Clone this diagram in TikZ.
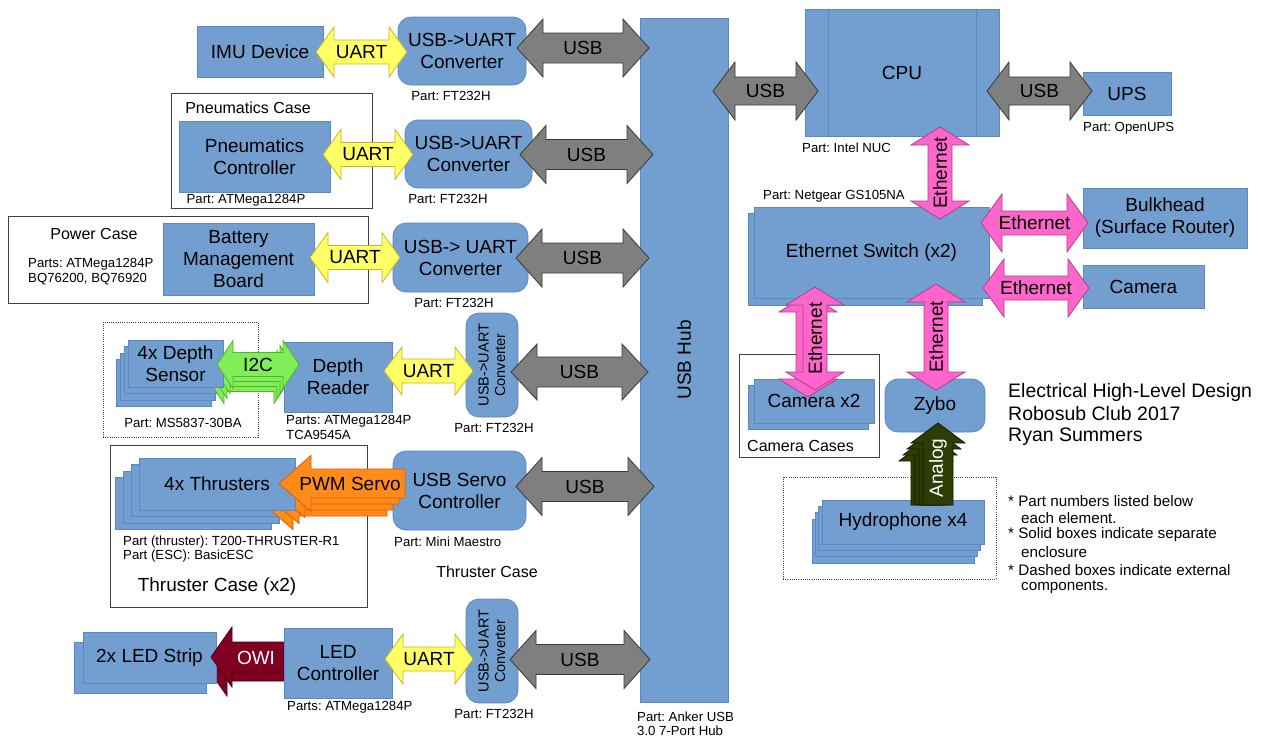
\documentclass[tikz,border=0pt]{standalone}
\usepackage{fontspec}
\setmainfont{Liberation Sans}
\frenchspacing
\definecolor{blkfill}{HTML}{729FCF}
\definecolor{blkdraw}{HTML}{5A88C2}
\definecolor{casedraw}{HTML}{404040}
\definecolor{yfill}{HTML}{FFFF66}
\definecolor{ydraw}{HTML}{C8B42A}
\definecolor{gfill}{HTML}{7F7F7F}
\definecolor{gdraw}{HTML}{3A3A3A}
\definecolor{grfill}{HTML}{80EE58}
\definecolor{grdraw}{HTML}{55B030}
\definecolor{pfill}{HTML}{FF66CC}
\definecolor{pdraw}{HTML}{B03E8A}
\definecolor{ofill}{HTML}{FF8C1A}
\definecolor{odraw}{HTML}{E05A00}
\definecolor{rfill}{HTML}{7F0021}
\definecolor{rdraw}{HTML}{4A0012}
\definecolor{olfill}{HTML}{2E3C06}
\definecolor{oldraw}{HTML}{141C00}
\tikzset{
 blk/.style={draw=blkdraw, fill=blkfill, line width=0.8pt, inner sep=0pt, outer sep=0pt, align=center, font=\fontsize{19}{22}\selectfont},
 rblk/.style={blk, rounded corners=13pt},
 casebox/.style={draw=casedraw, fill=none, line width=0.9pt},
 dotbox/.style={draw=casedraw, fill=none, line width=0.7pt, dash pattern=on 1pt off 1.2pt},
 yarr/.style={draw=ydraw, fill=yfill, line width=0.8pt},
 garr/.style={draw=gdraw, fill=gfill, line width=0.8pt},
 grarr/.style={draw=grdraw, fill=grfill, line width=0.8pt},
 parr/.style={draw=pdraw, fill=pfill, line width=0.8pt},
 oarr/.style={draw=odraw, fill=ofill, line width=0.8pt},
 rarr/.style={draw=rdraw, fill=rfill, line width=0.8pt},
 olarr/.style={draw=oldraw, fill=olfill, line width=0.8pt},
 lbl/.style={font=\fontsize{19}{22}\selectfont, inner sep=0pt},
 vlbl/.style={font=\fontsize{14.5}{16.5}\selectfont, inner sep=0pt, align=center, rotate=90},
 part/.style={font=\fontsize{13.2}{14.5}\selectfont, inner sep=0pt, align=left},
 casett/.style={font=\fontsize{16}{19}\selectfont, inner sep=0pt},
 note/.style={font=\fontsize{15.2}{17}\selectfont, inner sep=0pt, anchor=west},
 title/.style={font=\fontsize{19.5}{22}\selectfont, inner sep=0pt, anchor=west},
}
% box: [opts]{name}{x1}{y1}{x2}{y2}{text}
\newcommand\Blk[7][]{\node[blk,#1,minimum width={(#5-#3)*1pt},minimum height={(#6-#4)*1pt}] (#2) at ({(#3+#5)/2},{(#4+#6)/2}) {#7};}
% horizontal double arrow: style, xL, xR, yc, half head, half shaft, head length
\newcommand\HDA[7]{\draw[#1] (#2,#4) -- ({#2+#7},{#4-#5}) -- ({#2+#7},{#4-#6}) -- ({#3-#7},{#4-#6}) -- ({#3-#7},{#4-#5}) -- (#3,#4) -- ({#3-#7},{#4+#5}) -- ({#3-#7},{#4+#6}) -- ({#2+#7},{#4+#6}) -- ({#2+#7},{#4+#5}) -- cycle;}
% vertical double arrow: style, xc, yTop, yBot, half head, half shaft, head length
\newcommand\VDA[7]{\draw[#1] (#2,#3) -- ({#2+#5},{#3+#7}) -- ({#2+#6},{#3+#7}) -- ({#2+#6},{#4-#7}) -- ({#2+#5},{#4-#7}) -- (#2,#4) -- ({#2-#5},{#4-#7}) -- ({#2-#6},{#4-#7}) -- ({#2-#6},{#3+#7}) -- ({#2-#5},{#3+#7}) -- cycle;}
% left arrow: style, xtip, xend, yc, half head, half shaft, head length
\newcommand\LAR[7]{\draw[#1] (#2,#4) -- ({#2+#7},{#4-#5}) -- ({#2+#7},{#4-#6}) -- (#3,{#4-#6}) -- (#3,{#4+#6}) -- ({#2+#7},{#4+#6}) -- ({#2+#7},{#4+#5}) -- cycle;}
% up arrow: style, xc, ytip, yend, half head, half shaft, head length
\newcommand\UAR[7]{\draw[#1] (#2,#3) -- ({#2+#5},{#3+#7}) -- ({#2+#6},{#3+#7}) -- ({#2+#6},#4) -- ({#2-#6},#4) -- ({#2-#6},{#3+#7}) -- ({#2-#5},{#3+#7}) -- cycle;}
\begin{document}
\begin{tikzpicture}[x=1pt,y=-1pt]
\useasboundingbox[fill=white] (0,0) rectangle (1262,742);
% ---------- cases ----------
\Blk[casebox]{pcase}{171}{93}{372}{208}{}
\Blk[casebox]{pwcase}{8}{216}{368}{303}{}
\Blk[dotbox]{dcase}{103}{322}{258}{437}{}
\Blk[casebox]{tcase}{110}{445}{367}{607}{}
\Blk[casebox]{ccase}{739}{354}{879}{457}{}
\Blk[dotbox]{hcase}{783}{477}{996}{579}{}
% ---------- left column boxes ----------
\Blk{imu}{197}{26}{323}{77}{IMU Device}
\Blk[rblk]{conv1}{398}{17}{526}{85}{USB->UART\\Converter}
\Blk{pneu}{179}{121}{330}{192}{Pneumatics\\Controller}
\Blk[rblk]{conv2}{405}{120}{532}{188}{USB->UART\\Converter}
\Blk{bms}{163}{223}{314}{295}{Battery\\Management\\Board}
\Blk[rblk]{conv3}{393}{223}{528}{292}{USB-> UART\\Converter}
% depth sensors
\Blk{ds3}{116}{359.5}{211}{406.5}{}
\Blk{ds2}{120}{353}{215}{400}{}
\Blk{ds1}{124}{346.5}{219}{393.5}{}
\HDA{grarr}{208}{290}{379.5}{24}{12}{16}
\HDA{grarr}{211}{293}{374.5}{24}{12}{16}
\HDA{grarr}{214}{296}{369.5}{24}{12}{16}
\Blk{ds0}{128}{340}{223}{387}{4x Depth\\Sensor}
\Blk{reader}{284}{342}{392}{412}{Depth\\Reader}
\HDA{grarr}{217}{299}{364.5}{24}{12}{16}
\node[lbl] (li2c) at (258,364.5) {I2C};
\Blk[rblk]{conv4}{466}{313}{518}{417}{}
\node[vlbl] (conv4t) at (conv4) {USB->UART\\Converter};
% thrusters
\Blk[rblk]{servo}{393}{451}{526}{530}{USB Servo\\Controller}
\Blk{th3}{115.6}{477.5}{271.6}{529.5}{}
\Blk{th2}{123.4}{471}{279.4}{523}{}
\Blk{th1}{131.2}{464.5}{287.2}{516.5}{}
\LAR{oarr}{261}{387}{501.5}{28}{14.5}{32}
\LAR{oarr}{267}{393}{495.5}{28}{14.5}{32}
\LAR{oarr}{273}{399}{489.5}{28}{14.5}{32}
\Blk{th0}{139}{458}{295}{510}{4x Thrusters}
\LAR{oarr}{279}{405}{483.5}{28}{14.5}{32}
\node[lbl] (lpwm) at (350,483.5) {PWM Servo};
% LED
\Blk{led1}{74}{642}{206}{693}{}
\LAR{rarr}{206}{285}{666}{30}{15}{21}
\Blk{led0}{83}{632}{216}{683}{2x LED Strip}
\LAR{rarr}{211}{285}{657}{30}{15}{21}
\node[lbl,text=white] (lowi) at (256,658) {OWI};
\Blk{ledc}{284}{628}{392}{698}{LED\\Controller}
\Blk[rblk]{conv6}{466}{599}{518}{703}{}
\node[vlbl] (conv6t) at (conv6) {USB->UART\\Converter};
% hub
\Blk{hub}{640}{18}{728}{702}{}
\node[lbl,rotate=90] (hubt) at (684,360) {USB Hub};
% ---------- right side ----------
\Blk{cpu}{805}{9}{999}{136}{CPU}
\draw[draw=blkdraw, line width=0.8pt] (828,9) -- (828,136) (976,9) -- (976,136);
\Blk{ups}{1083}{72}{1171}{115}{UPS}
\Blk{sw1}{748}{213}{982}{305}{}
\Blk{sw0}{754}{207}{989}{298}{Ethernet Switch (x2)}
\Blk{bulk}{1083}{188}{1247}{248}{Bulkhead\\(Surface Router)}
\Blk{cam}{1083}{265}{1204}{308}{Camera}
\Blk{cx1}{748}{385}{868}{429}{}
\Blk{cx0}{754}{379}{874}{423}{Camera x2}
\Blk[rblk]{zybo}{885}{379}{985}{432}{Zybo}
\Blk{hy3}{812.1}{518.9}{974.1}{562.9}{}
\Blk{hy2}{815.4}{512.6}{977.4}{556.6}{}
\Blk{hy1}{818.7}{506.3}{980.7}{550.3}{}
\Blk{hy0}{822}{500}{984}{544}{Hydrophone x4}
% ---------- UART arrows ----------
\HDA{yarr}{316}{407}{52}{25}{12}{18}
\node[lbl] (lu1) at (361.5,52) {UART};
\HDA{yarr}{323}{413}{154.5}{25}{12}{18}
\node[lbl] (lu2) at (368,154.5) {UART};
\HDA{yarr}{310}{400}{257.5}{25}{12}{18}
\node[lbl] (lu3) at (355,257.5) {UART};
\HDA{yarr}{384}{473}{371}{24}{12}{18}
\node[lbl] (lu4) at (428.5,371) {UART};
\HDA{yarr}{385}{473}{659}{25}{12}{18}
\node[lbl] (lu6) at (429,659) {UART};
% ---------- USB arrows ----------
\HDA{garr}{517}{649}{48}{29}{15}{26}
\node[lbl] (lg1) at (583,48) {USB};
\HDA{garr}{520}{653}{154.5}{29}{15}{26}
\node[lbl] (lg2) at (586.5,154.5) {USB};
\HDA{garr}{516}{649}{258}{29}{15}{26}
\node[lbl] (lg3) at (582.5,258) {USB};
\HDA{garr}{511}{648}{372}{28}{15}{26}
\node[lbl] (lg4) at (579.5,372) {USB};
\HDA{garr}{516}{654}{486.5}{29}{15}{26}
\node[lbl] (lg5) at (585,486.5) {USB};
\HDA{garr}{510}{650}{659.5}{29}{15}{26}
\node[lbl] (lg6) at (580,659.5) {USB};
\HDA{garr}{713}{818}{91}{29}{14}{22}
\node[lbl] (lg7) at (765.5,91) {USB};
\HDA{garr}{987}{1092}{91}{29}{14}{22}
\node[lbl] (lg8) at (1039.5,91) {USB};
% ---------- Ethernet arrows ----------
\VDA{parr}{940}{127}{219}{29}{12}{18}
\node[lbl,rotate=90] (le1) at (940,173) {Ethernet};
\HDA{parr}{981}{1088}{223}{29}{12}{21}
\node[lbl] (le2) at (1034.5,223) {Ethernet};
\HDA{parr}{983}{1089}{288}{29}{12}{21}
\node[lbl] (le3) at (1036,288) {Ethernet};
\VDA{parr}{808}{294}{397}{29}{12}{18}
\VDA{parr}{815}{287}{390}{29}{12}{18}
\node[lbl,rotate=90] (le4) at (815,338.5) {Ethernet};
\VDA{parr}{936}{284}{390}{29}{12}{18}
\node[lbl,rotate=90] (le5) at (936,337) {Ethernet};
% ---------- Analog ----------
\UAR{olarr}{926}{441}{505}{27}{15}{20}
\UAR{olarr}{930}{435}{505}{27}{15}{20}
\UAR{olarr}{934}{429}{505}{27}{15}{20}
\UAR{olarr}{938}{423}{505}{27}{15}{20}
\node[lbl,rotate=90,text=white] (lan) at (938,468) {Analog};
% ---------- case titles and parts ----------
\node[casett] (t1) at (248,108) {Pneumatics Case};
\node[casett] (t2) at (94,234) {Power Case};
\node[lbl] (t3) at (217,587) {Thruster Case (x2)};
\node[casett] (t4) at (487,572) {Thruster Case};
\node[casett,anchor=west] (t5) at (747,446) {Camera Cases};
\node[part] (p1) at (451,96) {Part: FT232H};
\node[part] (p2) at (448,199) {Part: FT232H};
\node[part] (p3) at (454,303) {Part: FT232H};
\node[part] (p4) at (494,428) {Part: FT232H};
\node[part] (p5) at (494,714) {Part: FT232H};
\node[part] (p6) at (246,200) {Part: ATMega1284P};
\node[part,anchor=west] (p7) at (28,271.5) {Parts: ATMega1284P\\BQ76200, BQ76920};
\node[part] (p8) at (183,423) {Part: MS5837-30BA};
\node[part,anchor=west] (p9) at (286,427.5) {Parts: ATMega1284P\\TCA9545A};
\node[part,anchor=west] (p10) at (123,549) {Part (thruster): T200-THRUSTER-R1\\Part (ESC): BasicESC};
\node[part,anchor=west] (p11) at (394,542) {Part: Mini Maestro};
\node[part,anchor=west] (p12) at (287,707) {Parts: ATMega1284P};
\node[part,anchor=west] (p13) at (637,724) {Part: Anker USB\\3.0 7-Port Hub};
\node[part,anchor=west] (p14) at (802,148) {Part: Intel NUC};
\node[part,anchor=west] (p15) at (1083,128) {Part: OpenUPS};
\node[part,anchor=west] (p16) at (763,196) {Part: Netgear GS105NA};
% ---------- title and notes ----------
\node[title] (ti1) at (1008,392) {Electrical High-Level Design};
\node[title] (ti2) at (1008,414) {Robosub Club 2017};
\node[title] (ti3) at (1008,437) {Ryan Summers};
\node[note] (n1) at (1008,501) {* Part numbers listed below};
\node[note] (n2) at (1021,518) {each element.};
\node[note] (n3) at (1008,535) {* Solid boxes indicate separate};
\node[note] (n4) at (1021,552) {enclosure};
\node[note] (n5) at (1008,570) {* Dashed boxes indicate external};
\node[note] (n6) at (1021,587) {components.};
\end{tikzpicture}
\end{document}
